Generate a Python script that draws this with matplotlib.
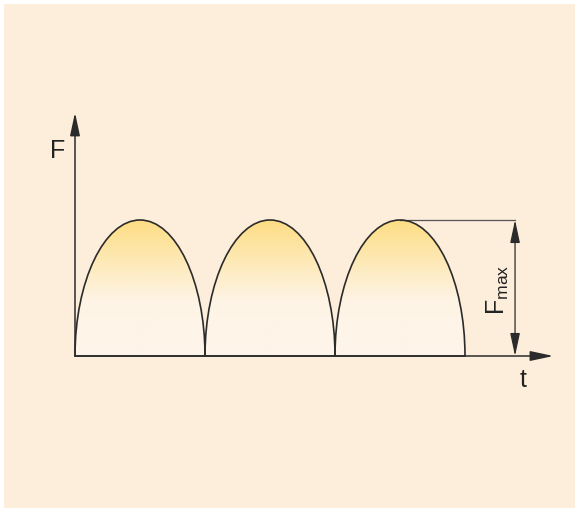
import matplotlib.pyplot as plt
import numpy as np
from matplotlib.path import Path
from matplotlib.patches import PathPatch, Rectangle
from matplotlib.colors import LinearSegmentedColormap

# pulses (t in units of one pulse width, F relative to F_max)
pulse_starts = [0, 1, 2]
pulse_width = 1.0
f_max = 1.0
t_axis_end = 3.68
f_axis_end = 1.79
fmax_marker_t = 3.385

bg = '#fdeedb'
line_col = '#2b2b2b'

fig = plt.figure(figsize=(5.75, 5.08), dpi=100)
fig.patches.append(Rectangle((4 / 575, 0), 1, 1 - 4 / 508, transform=fig.transFigure,
                             facecolor=bg, edgecolor='none', zorder=-5))
ax = fig.add_axes([0, 0, 1, 1])
ax.set_facecolor('none')
ax.axis('off')

# gradient: yellow at the top, cream below ~40% of the height
cmap = LinearSegmentedColormap.from_list(
    'arch', [(0, '#fef5ea'), (0.4, '#fef4e6'), (0.62, '#feecc4'), (0.85, '#fde39c'), (1, '#fddd84')])
grad = np.linspace(0, 1, 256).reshape(-1, 1)


def arch_path(s, w, h):
    # half-sine-like arch, steep at the base, narrow at the top
    c = s + w / 2
    verts = [(s, 0), (s, 0.55 * h), (c - 0.55 * w / 2, h), (c, h),
             (c + 0.55 * w / 2, h), (s + w, 0.55 * h), (s + w, 0), (s, 0)]
    codes = [Path.MOVETO, Path.CURVE4, Path.CURVE4, Path.CURVE4,
             Path.CURVE4, Path.CURVE4, Path.CURVE4, Path.CLOSEPOLY]
    return Path(verts, codes)


for s in pulse_starts:
    p = arch_path(s, pulse_width, f_max)
    im = ax.imshow(grad, cmap=cmap, origin='lower', aspect='auto',
                   extent=[s, s + pulse_width, 0, f_max], zorder=1)
    clip = PathPatch(p, facecolor='none', edgecolor='none', transform=ax.transData)
    ax.add_patch(clip)
    im.set_clip_path(clip)
    ax.add_patch(PathPatch(p, facecolor='none', edgecolor=line_col, lw=1.2, zorder=3))

ax.set_xlim(-75 / 130, 500 / 130)
ax.set_ylim(-152 / 136, 356 / 136)

# axes with arrows
arrow = dict(arrowstyle='-|>,head_length=1.4,head_width=0.3', color=line_col, lw=1.1,
             shrinkA=0, shrinkB=0)
ax.annotate('', xy=(0, f_axis_end), xytext=(0, 0), arrowprops=arrow, zorder=4)
ax.annotate('', xy=(t_axis_end, 0), xytext=(0, 0), arrowprops=arrow, zorder=4)

# F_max dimension
peak_t = pulse_starts[-1] + pulse_width / 2
ax.plot([peak_t, fmax_marker_t], [f_max, f_max], color='#555555', lw=0.9, zorder=2)
dim = dict(arrowstyle='<|-|>,head_length=1.4,head_width=0.3', color=line_col, lw=0.9,
           shrinkA=0, shrinkB=0)
ax.annotate('', xy=(fmax_marker_t, f_max), xytext=(fmax_marker_t, 0), arrowprops=dim, zorder=4)

font = 'Liberation Sans'
ax.text(-0.135, 1.51, 'F', fontsize=18, family=font, color='#222222', ha='center', va='center')
ax.text(3.45, -0.18, 't', fontsize=18, family=font, color='#222222', ha='center', va='center')
ax.text(3.255, 0.49, r'F$_{\mathregular{max}}$', fontsize=18, family=font, color='#222222',
        rotation=90, ha='center', va='center')

fig.savefig('out.png', dpi=100)
